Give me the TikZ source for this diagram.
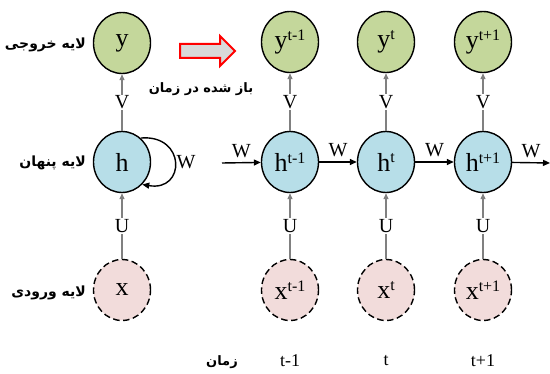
\documentclass[tikz,border=0pt]{standalone}
\usepackage{fontspec}
\setmainfont{Liberation Serif}
\newfontfamily\fafont[Script=Arabic]{DejaVu Sans}
\TeXXeTstate=1
\usetikzlibrary{shapes.geometric,arrows.meta}
\definecolor{ygreen}{RGB}{196,215,155}
\definecolor{hblue}{RGB}{183,222,232}
\definecolor{xpink}{RGB}{242,220,219}
\definecolor{arrowgray}{RGB}{217,217,217}
\newcommand{\lbl}[2]{{\fontsize{26}{26}\selectfont #1\raisebox{8.5pt}{\fontsize{16}{16}\selectfont #2}}}
\newcommand{\fatext}[2][13]{{\fafont\bfseries\fontsize{#1}{#1}\selectfont\beginR #2\endR}}
\begin{document}
\begin{tikzpicture}[x=1pt,y=-1pt,
  unit/.style={ellipse,draw=black,line width=1.4pt,minimum width=57pt,minimum height=61pt,inner sep=0pt},
  ynode/.style={unit,fill=ygreen},
  hnode/.style={unit,fill=hblue},
  xnode/.style={unit,fill=xpink,dashed,dash pattern=on 6.5pt off 3.5pt},
  grayarrow/.style={draw={rgb,255:red,128;green,128;blue,128},line width=1.2pt,-{Triangle[length=6pt,width=5pt]}},
  blkarrow/.style={draw=black,line width=1.4pt,-{Triangle[length=7pt,width=6pt]}},
  wt/.style={fill=white,inner sep=1pt,font=\fontsize{20}{20}\selectfont},
  wlab/.style={font=\fontsize{20}{20}\selectfont,inner sep=1pt},
  tlab/.style={font=\fontsize{18}{18}\selectfont}
]
\useasboundingbox (0,0) rectangle (550,374);

% folded network
\node[ynode] (y) at (122,43) {\lbl{y}{}};
\node[hnode] (h) at (122,162) {\lbl{h}{}};
\node[xnode] (x) at (122,290) {\lbl{x}{}};
\draw[grayarrow] (h) -- node[wt] {V} (y);
\draw[grayarrow] (x) -- node[wt] {U} (h);
\draw[blkarrow] (h.52) .. controls (186,134) and (186,192) .. node[wlab,right] {W} (h.-48);

% layer names
\node[anchor=east,inner sep=0pt] (ly) at (86,45) {\fatext[14]{لایه خروجی}};
\node[anchor=east,inner sep=0pt] (lh) at (86,163) {\fatext[14]{لایه پنهان}};
\node[anchor=east,inner sep=0pt] (lx) at (86,293) {\fatext[14]{لایه ورودی}};

% unfold arrow
\draw[red,line width=2pt,fill=arrowgray,line join=miter]
  (180,44) -- (220,44) -- (220,36) -- (235,51) -- (220,66) -- (220,58) -- (180,58) -- cycle;
\node (unf) at (201,89) {\fatext{باز شده در زمان}};

% unrolled network
\foreach \i/\xx/\s in {1/290/t-1,2/386/t,3/483/t+1}{
  \node[ynode] (y\i) at (\xx,42) {\lbl{y}{\s}};
  \node[hnode] (h\i) at (\xx,162) {\lbl{h}{\s}};
  \node[xnode] (x\i) at (\xx,290) {\lbl{x}{\s}};
  \draw[grayarrow] (h\i) -- node[wt] {V} (y\i);
  \draw[grayarrow] (x\i) -- node[wt] {U} (h\i);
  \node[tlab] (t\i) at (\xx,361) {\s};
}
\coordinate (win) at (222,163);
\coordinate (wout) at (550,163);
\draw[blkarrow] (win) -- node[wlab,above=3pt] {W} (h1);
\draw[blkarrow] (h1) -- node[wlab,above=3pt] {W} (h2);
\draw[blkarrow] (h2) -- node[wlab,above=3pt] {W} (h3);
\draw[blkarrow] (h3) -- node[wlab,above=3pt] {W} (wout);
\node (tz) at (222,362) {\fatext{زمان}};
\end{tikzpicture}
\end{document}
